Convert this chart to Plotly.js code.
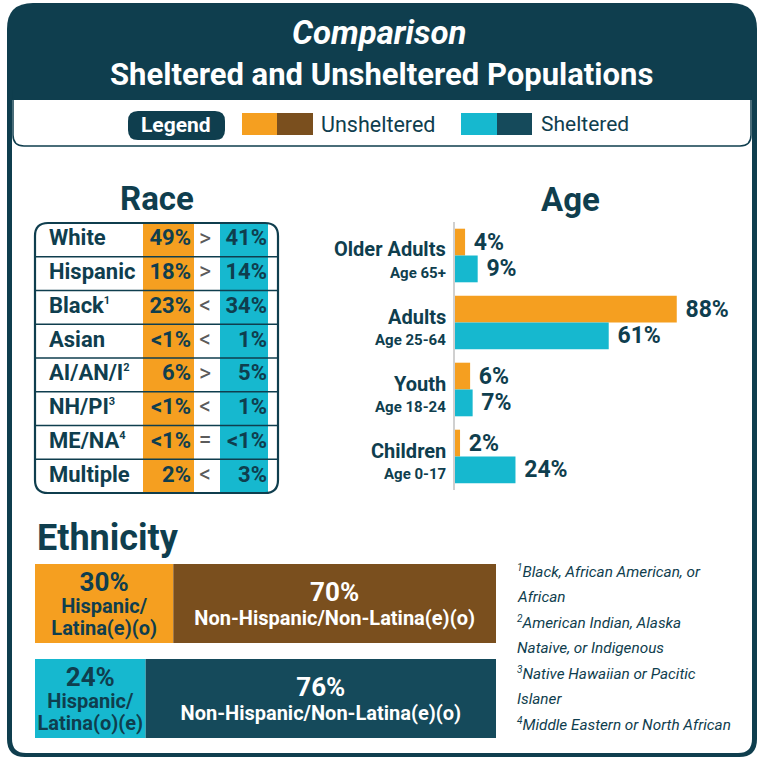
<!DOCTYPE html>
<html>
<head>
<meta charset="utf-8">
<script src="https://cdn.plot.ly/plotly-3.0.1.min.js"></script>
<style>html,body{margin:0;padding:0;background:#fff;}#chart{width:762px;height:759px;}</style>
</head>
<body>
<div id="chart"></div>
<script>
// ---------- DATA ----------
const raceLabels = ['White','Hispanic','Black<sup>1</sup>','Asian','AI/AN/I<sup>2</sup>','NH/PI<sup>3</sup>','ME/NA<sup>4</sup>','Multiple'];
const raceUnsheltered = ['49%','18%','23%','&lt;1%','6%','&lt;1%','&lt;1%','2%'];
const raceCompare = ['&gt;','&gt;','&lt;','&lt;','&gt;','&lt;','=','&lt;'];
const raceSheltered = ['41%','14%','34%','1%','5%','1%','&lt;1%','3%'];

const ageGroups = ['Older Adults','Adults','Youth','Children'];
const ageRanges = ['Age 65+','Age 25-64','Age 18-24','Age 0-17'];
const ageUnsheltered = [4, 88, 6, 2];
const ageSheltered = [9, 61, 7, 24];

const ethRows = ['Unsheltered','Sheltered'];
const ethHispanic = [30, 24];
const ethNonHispanic = [70, 76];
const ethHispLabel = [['Hispanic/','Latina(e)(o)'], ['Hispanic/','Latina(o)(e)']];
const ethNonHispLabel = ['Non-Hispanic/Non-Latina(e)(o)','Non-Hispanic/Non-Latina(e)(o)'];

const footnotes = [
  '<sup>1</sup>Black, African American, or',
  'African',
  '<sup>2</sup>American Indian, Alaska',
  'Nataive, or Indigenous',
  '<sup>3</sup>Native Hawaiian or Pacitic',
  'Islaner',
  '<sup>4</sup>Middle Eastern or North African'
];

// ---------- STYLE ----------
const W = 762, H = 759;
const DARK = '#0f3e4e';
const ORANGE = '#f59f20';
const BROWN = '#7a4f1e';
const CYAN = '#16b8cf';
const NAVY = '#154a5b';
const FONT = 'Roboto, "Open Sans", sans-serif';
const fx = x => x / W;
const fy = y => 1 - y / H;
const smallSup = s => s.replace(/<sup>(.*?)<\/sup>/g, '<sup><span style="font-size:11px">$1</span></sup>');

function rr(x0, y0, x1, y1, rt, rb) {
  return `M ${fx(x0+rt)},${fy(y0)} L ${fx(x1-rt)},${fy(y0)} Q ${fx(x1)},${fy(y0)} ${fx(x1)},${fy(y0+rt)} ` +
         `L ${fx(x1)},${fy(y1-rb)} Q ${fx(x1)},${fy(y1)} ${fx(x1-rb)},${fy(y1)} ` +
         `L ${fx(x0+rb)},${fy(y1)} Q ${fx(x0)},${fy(y1)} ${fx(x0)},${fy(y1-rb)} ` +
         `L ${fx(x0)},${fy(y0+rt)} Q ${fx(x0)},${fy(y0)} ${fx(x0+rt)},${fy(y0)} Z`;
}

// ---------- TRACES ----------
const traces = [];

// Age bars
traces.push({
  type: 'bar', orientation: 'h', x: ageUnsheltered, y: ageGroups, xaxis: 'x', yaxis: 'y',
  width: 0.4, offset: -0.4, marker: {color: ORANGE},
  text: ageUnsheltered.map(v => '&nbsp;' + v + '%'), textposition: 'outside', constraintext: 'none', cliponaxis: false,
  textfont: {size: 23, color: DARK, weight: 'bold', family: FONT}, hoverinfo: 'skip'
});
traces.push({
  type: 'bar', orientation: 'h', x: ageSheltered, y: ageGroups, xaxis: 'x', yaxis: 'y',
  width: 0.4, offset: 0, marker: {color: CYAN},
  text: ageSheltered.map(v => '&nbsp;' + v + '%'), textposition: 'outside', constraintext: 'none', cliponaxis: false,
  textfont: {size: 23, color: DARK, weight: 'bold', family: FONT}, hoverinfo: 'skip'
});

// Race table columns (cells)
traces.push({
  type: 'bar', orientation: 'h', y: raceLabels, x: raceLabels.map(() => 51), base: 108, width: 1,
  xaxis: 'x2', yaxis: 'y2', marker: {color: ORANGE, line: {width: 0}}, hoverinfo: 'skip'
});
traces.push({
  type: 'bar', orientation: 'h', y: raceLabels, x: raceLabels.map(() => 48), base: 185, width: 1,
  xaxis: 'x2', yaxis: 'y2', marker: {color: CYAN, line: {width: 0}}, hoverinfo: 'skip'
});
// Race table text
traces.push({
  type: 'scatter', mode: 'text', x: raceLabels.map(() => 14), y: raceLabels, text: raceLabels.map(smallSup),
  textposition: 'middle right', xaxis: 'x2', yaxis: 'y2', cliponaxis: false,
  textfont: {size: 22, color: DARK, weight: 'bold', family: FONT}, hoverinfo: 'skip'
});
traces.push({
  type: 'scatter', mode: 'text', x: raceLabels.map(() => 156), y: raceLabels, text: raceUnsheltered,
  textposition: 'middle left', xaxis: 'x2', yaxis: 'y2', cliponaxis: false,
  textfont: {size: 22, color: DARK, weight: 'bold', family: FONT}, hoverinfo: 'skip'
});
traces.push({
  type: 'scatter', mode: 'text', x: raceLabels.map(() => 170), y: raceLabels, text: raceCompare,
  textposition: 'middle center', xaxis: 'x2', yaxis: 'y2', cliponaxis: false,
  textfont: {size: 23, color: '#5b5b5b', family: FONT}, hoverinfo: 'skip'
});
traces.push({
  type: 'scatter', mode: 'text', x: raceLabels.map(() => 232), y: raceLabels, text: raceSheltered,
  textposition: 'middle left', xaxis: 'x2', yaxis: 'y2', cliponaxis: false,
  textfont: {size: 22, color: DARK, weight: 'bold', family: FONT}, hoverinfo: 'skip'
});

// Ethnicity stacked bars
traces.push({
  type: 'bar', orientation: 'h', x: ethHispanic, y: ethRows, xaxis: 'x3', yaxis: 'y3', width: 0.832,
  marker: {color: [ORANGE, CYAN]},
  text: ethHispanic.map((v, i) => `<span style="font-size:26px">${v}%</span><br><span style="font-size:20px">${ethHispLabel[i][0]}</span><br><span style="font-size:20px">${ethHispLabel[i][1]}</span>`),
  textposition: 'inside', insidetextanchor: 'middle', constraintext: 'none', textangle: 0,
  textfont: {size: 17, color: DARK, weight: 'bold', family: FONT}, hoverinfo: 'skip'
});
traces.push({
  type: 'bar', orientation: 'h', x: ethNonHispanic, y: ethRows, base: ethHispanic, xaxis: 'x3', yaxis: 'y3', width: 0.832,
  marker: {color: [BROWN, NAVY]},
  text: ethNonHispanic.map((v, i) => `<span style="font-size:26px">${v}%</span><br><span style="font-size:20px">${ethNonHispLabel[i]}</span>`),
  textposition: 'inside', insidetextanchor: 'middle', constraintext: 'none', textangle: 0,
  textfont: {size: 18, color: '#ffffff', weight: 'bold', family: FONT}, hoverinfo: 'skip'
});

// ---------- SHAPES ----------
const shapes = [
  {type: 'path', xref: 'paper', yref: 'paper', path: rr(7, 3, 757, 757, 26, 18), fillcolor: DARK, line: {width: 0}, layer: 'below'},
  {type: 'path', xref: 'paper', yref: 'paper', path: rr(12, 100, 752, 753, 0, 14), fillcolor: '#ffffff', line: {width: 0}, layer: 'below'},
  {type: 'path', xref: 'paper', yref: 'paper', path: rr(13, 90, 751, 146, 0, 11), fillcolor: 'rgba(0,0,0,0)', line: {color: DARK, width: 1.5}, layer: 'below'},
  {type: 'rect', xref: 'paper', yref: 'paper', x0: fx(13), x1: fx(751), y0: fy(100), y1: fy(88), fillcolor: DARK, line: {width: 0}, layer: 'below'},
  // legend
  {type: 'path', xref: 'paper', yref: 'paper', path: rr(128, 111, 225, 140, 10, 10), fillcolor: DARK, line: {width: 0}, layer: 'below'},
  {type: 'rect', xref: 'paper', yref: 'paper', x0: fx(242), x1: fx(277), y0: fy(135), y1: fy(113), fillcolor: ORANGE, line: {width: 0}, layer: 'below'},
  {type: 'rect', xref: 'paper', yref: 'paper', x0: fx(277), x1: fx(313), y0: fy(135), y1: fy(113), fillcolor: BROWN, line: {width: 0}, layer: 'below'},
  {type: 'rect', xref: 'paper', yref: 'paper', x0: fx(461), x1: fx(497), y0: fy(135), y1: fy(113), fillcolor: CYAN, line: {width: 0}, layer: 'below'},
  {type: 'rect', xref: 'paper', yref: 'paper', x0: fx(497), x1: fx(532), y0: fy(135), y1: fy(113), fillcolor: NAVY, line: {width: 0}, layer: 'below'},
  // race table border
  {type: 'path', xref: 'paper', yref: 'paper', path: rr(35, 223, 278, 493, 13, 13), fillcolor: 'rgba(0,0,0,0)', line: {color: DARK, width: 2.2}, layer: 'above'}
];
for (let i = 0; i < raceLabels.length - 1; i++) {
  shapes.push({type: 'line', xref: 'x2', yref: 'y2', x0: 0, x1: 243, y0: i + 0.5, y1: i + 0.5,
               line: {color: DARK, width: 1.6}, layer: 'above'});
}

// ---------- ANNOTATIONS ----------
const ann = (x, y, text, opts) => Object.assign({xref: 'paper', yref: 'paper', x: fx(x), y: fy(y), text: text,
  showarrow: false, xanchor: 'center', yanchor: 'middle', font: {family: FONT, color: DARK, size: 16}}, opts || {});

const annotations = [
  ann(379, 33, 'Comparison', {font: {family: FONT, color: '#ffffff', size: 33, weight: 'bold', style: 'italic'}}),
  ann(381, 75, 'Sheltered and Unsheltered Populations', {font: {family: FONT, color: '#ffffff', size: 31, weight: 'bold'}}),
  ann(176, 125, 'Legend', {font: {family: FONT, color: '#ffffff', size: 21, weight: 'bold'}}),
  ann(319, 124, 'Unsheltered', {xanchor: 'left', font: {family: FONT, color: DARK, size: 21.5}}),
  ann(539, 124, 'Sheltered', {xanchor: 'left', font: {family: FONT, color: DARK, size: 21}}),
  ann(157, 198, 'Race', {font: {family: FONT, color: DARK, size: 33, weight: 'bold'}}),
  ann(570, 199, 'Age', {font: {family: FONT, color: DARK, size: 33, weight: 'bold'}}),
  ann(35, 538, 'Ethnicity', {xanchor: 'left', font: {family: FONT, color: DARK, size: 36, weight: 'bold'}})
];
// Age category labels, placed on the age axis categories
ageGroups.forEach((g, i) => {
  annotations.push({xref: 'paper', yref: 'y', x: fx(448), y: g, yshift: 6, text: g, showarrow: false,
    xanchor: 'right', yanchor: 'middle', font: {family: FONT, color: DARK, size: 20, weight: 'bold'}});
  annotations.push({xref: 'paper', yref: 'y', x: fx(448), y: g, yshift: -17, text: ageRanges[i], showarrow: false,
    xanchor: 'right', yanchor: 'middle', font: {family: FONT, color: DARK, size: 15, weight: 'bold'}});
});
footnotes.forEach((t, i) => {
  annotations.push(ann(515, 571 + i * 25.5, t.replace(/<sup>(.*?)<\/sup>/g, '<sup><span style="font-size:10px">$1</span></sup>'),
    {xanchor: 'left', font: {family: FONT, color: DARK, size: 15.3, style: 'italic'}}));
});

// ---------- LAYOUT ----------
const layout = {
  width: W, height: H, margin: {l: 0, r: 0, t: 0, b: 0, pad: 0},
  paper_bgcolor: '#ffffff', plot_bgcolor: 'rgba(0,0,0,0)',
  showlegend: false, barmode: 'overlay', font: {family: FONT, color: DARK},
  xaxis: {domain: [fx(455), fx(707)], range: [0, 100], visible: false, fixedrange: true, anchor: 'y'},
  yaxis: {domain: [fy(490), fy(222)], range: [3.5, -0.5], type: 'category', anchor: 'x',
          categoryorder: 'array', categoryarray: ageGroups,
          showline: true, linecolor: '#d0d0d0', linewidth: 2, showgrid: false, zeroline: false, ticks: '',
          showticklabels: false, fixedrange: true},
  xaxis2: {domain: [fx(35), fx(278)], range: [0, 243], visible: false, anchor: 'y2', fixedrange: true},
  yaxis2: {domain: [fy(493), fy(223)], range: [7.5, -0.5], type: 'category', visible: false, anchor: 'x2', fixedrange: true},
  xaxis3: {domain: [fx(35), fx(496)], range: [0, 100], visible: false, anchor: 'y3', fixedrange: true},
  yaxis3: {domain: [fy(746), fy(556)], range: [1.5, -0.5], type: 'category', visible: false, anchor: 'x3', fixedrange: true},
  shapes: shapes,
  annotations: annotations
};

Plotly.newPlot('chart', traces, layout, {displayModeBar: false, staticPlot: true});
</script>
</body>
</html>
